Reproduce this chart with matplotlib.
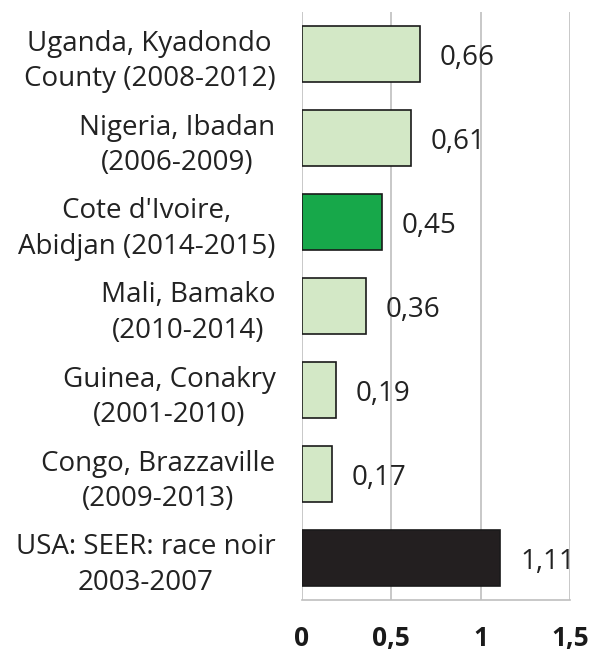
import matplotlib
matplotlib.use("Agg")
import matplotlib.pyplot as plt

plt.rcParams["font.family"] = ["Open Sans", "DejaVu Sans"]

# categories top to bottom
labels = [
    "Uganda, Kyadondo\nCounty (2008-2012)",
    "Nigeria, Ibadan\n(2006-2009)",
    "Cote d'Ivoire,\nAbidjan (2014-2015)",
    "Mali, Bamako\n(2010-2014)",
    "Guinea, Conakry\n(2001-2010)",
    "Congo, Brazzaville\n(2009-2013)",
    "USA: SEER: race noir\n2003-2007",
]
values = [0.66, 0.61, 0.45, 0.36, 0.19, 0.17, 1.11]
colors = ["#d3e8c6", "#d3e8c6", "#17a84a", "#d3e8c6", "#d3e8c6", "#d3e8c6", "#231f20"]
xticks = [0, 0.5, 1, 1.5]
xtick_labels = ["0", "0,5", "1", "1,5"]

fig = plt.figure(figsize=(5.93, 6.57), dpi=100)
ax = fig.add_axes([302 / 593, 57 / 657, 268 / 593, 588 / 657])

ypos = list(range(len(values)))
ax.barh(ypos, values, height=0.67, color=colors, edgecolor="#1a1a1a", linewidth=1.2, zorder=3)

for y, v in zip(ypos, values):
    ax.text(v + 0.11, y + 0.05, f"{v:.2f}".replace(".", ","), va="center", ha="left",
            fontsize=20, color="#222222", zorder=4)

ax.set_xlim(0, 1.5)
ax.set_ylim(len(values) - 0.5, -0.5)
ax.set_xticks(xticks)
ax.set_xticklabels(xtick_labels, fontsize=19, fontweight="bold", color="#1a1a1a")
ax.set_yticks(ypos)
ax.set_yticklabels(labels, fontsize=20, color="#222222")
for t in ax.get_yticklabels():
    t.set_multialignment("center")
    t.set_linespacing(1.35)

ax.tick_params(axis="both", length=0)
ax.tick_params(axis="y", pad=19)
ax.tick_params(axis="x", pad=18)
ax.grid(axis="x", color="#bfbfbf", linewidth=1.2, zorder=0)
for s in ["top", "right", "left"]:
    ax.spines[s].set_visible(False)
ax.spines["bottom"].set_color("#bfbfbf")
ax.spines["bottom"].set_linewidth(1.2)

fig.savefig("out.png", dpi=100)
